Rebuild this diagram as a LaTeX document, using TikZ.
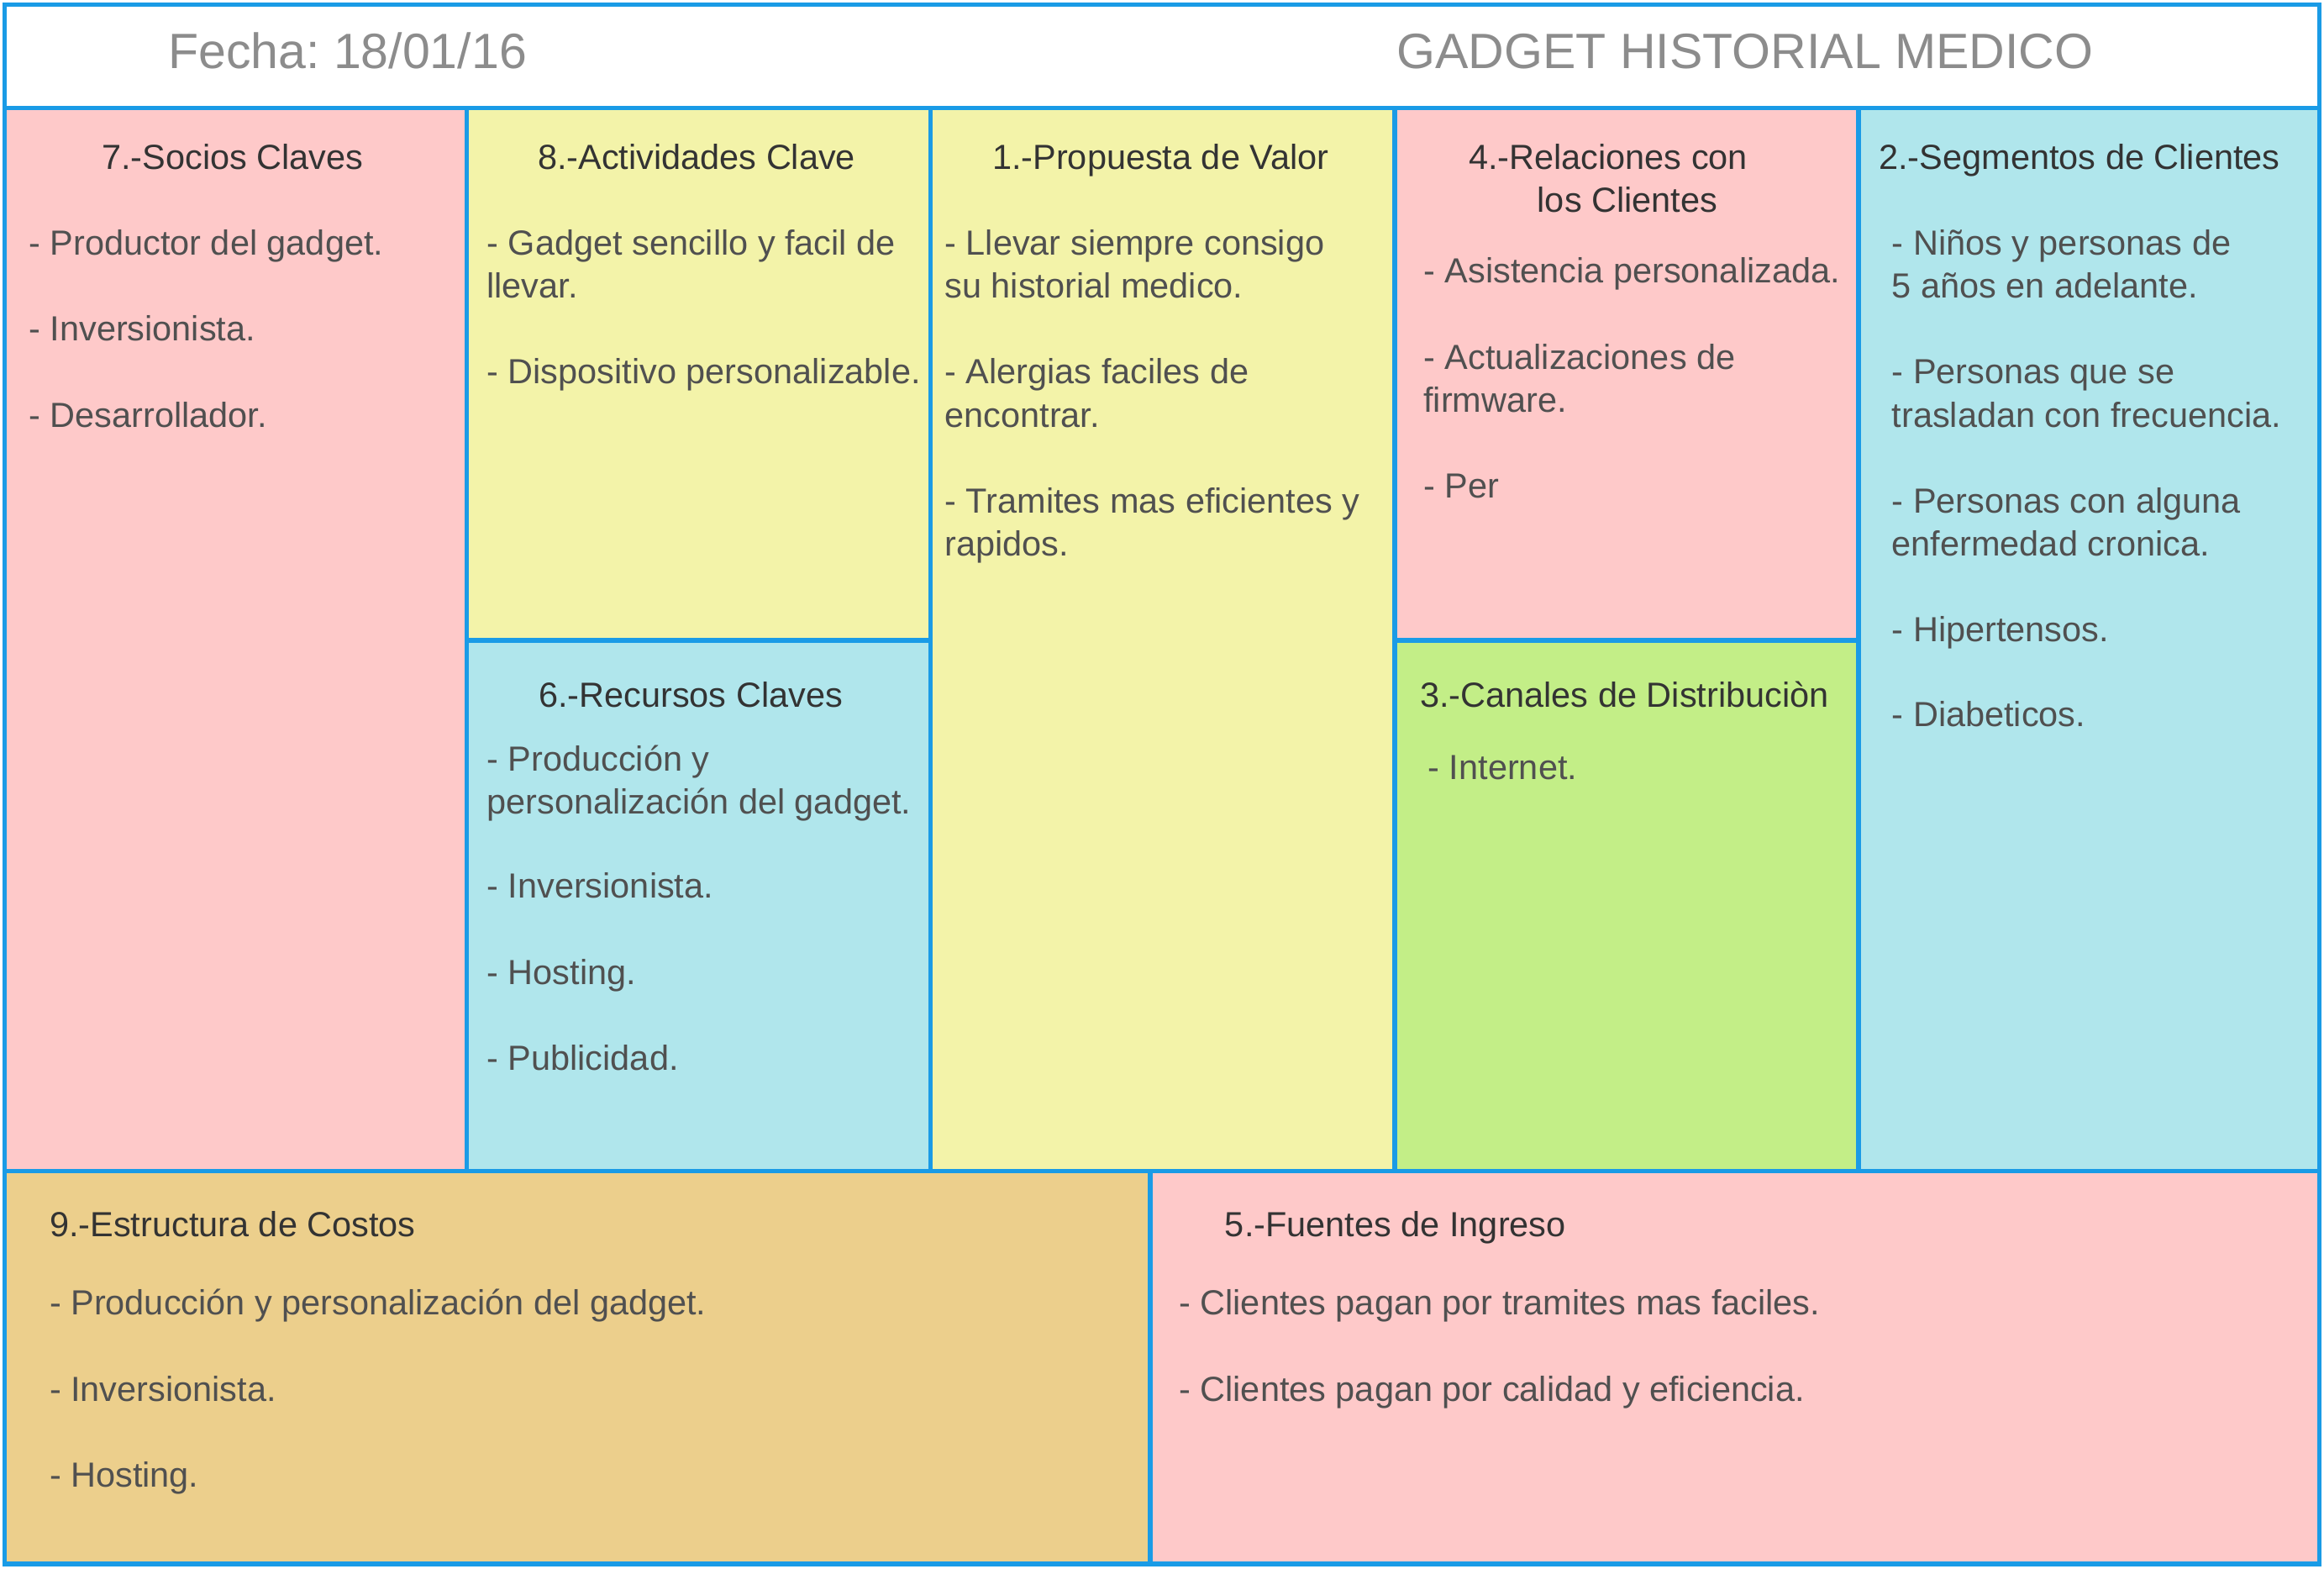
\documentclass[tikz,border=0pt]{standalone}
\usepackage{fontspec}
\setmainfont{Liberation Sans}
\frenchspacing
\definecolor{rosa}{HTML}{FEC9C9}
\definecolor{amarillo}{HTML}{F3F3A9}
\definecolor{azul}{HTML}{B0E6EC}
\definecolor{verde}{HTML}{C3EE87}
\definecolor{naranja}{HTML}{ECCF8C}
\definecolor{borde}{HTML}{1A9BE6}
\definecolor{texto}{HTML}{505050}
\definecolor{tit}{HTML}{333333}
\definecolor{cabeza}{HTML}{8C8C8C}

\begin{document}
\begin{tikzpicture}[x=0.1764mm,y=-0.1764mm,line width=1.5pt,
  celda/.style={draw=borde},
  cabecera/.style={font=\fontsize{16.8}{20}\selectfont,text=cabeza,inner sep=0pt,anchor=base west},
  titulo/.style={font=\fontsize{11.8}{14.5}\selectfont,text=tit,inner sep=0pt,anchor=base,yshift=-0.35mm},
  item/.style={font=\fontsize{11.8}{14.5}\selectfont,text=texto,inner sep=0pt,anchor=base west,yshift=-0.35mm}]
\useasboundingbox (0,0) rectangle (1568,1058);
% fondos de las celdas
\fill[white] (3,3) rectangle (1565,73);
\foreach \xa/\ya/\xb/\yb/\col in {3/73/315/790/rosa, 315/73/628/432/amarillo,
  315/432/628/790/azul, 628/73/941/790/amarillo, 941/73/1254/432/rosa,
  941/432/1254/790/verde, 1254/73/1565/790/azul, 3/790/776/1055/naranja,
  776/790/1565/1055/rosa}
  \fill[\col] (\xa,\ya) rectangle (\xb,\yb);
% bordes
\draw[celda] (3,3) rectangle (1565,73);
\foreach \xa/\ya/\xb/\yb in {3/73/315/790, 315/73/628/432, 315/432/628/790,
  628/73/941/790, 941/73/1254/432, 941/432/1254/790, 1254/73/1565/790,
  3/790/776/1055, 776/790/1565/1055}
  \draw[celda] (\xa,\ya) rectangle (\xb,\yb);
% cabecera
\node[cabecera] (fecha) at (112,46) {Fecha: 18/01/16};
\node[cabecera] (nombre) at (941,46) {GADGET HISTORIAL MEDICO};
% 7.- socios
\node[titulo] (socios) at (157,112) {7.-Socios Claves};
\foreach \y/\t [count=\i] in {170/- Productor del gadget., 228/- Inversionista.,
  286/- Desarrollador.}
  \node[item] (socio\i) at (18,\y) {\t};
% 8.- actividades
\node[titulo] (actividades) at (470,112) {8.-Actividades Clave};
\foreach \y/\t [count=\i] in {170/- Gadget sencillo y facil de, 199/llevar.,
  257/- Dispositivo personalizable.}
  \node[item] (actividad\i) at (327,\y) {\t};
% 6.- recursos
\node[titulo] (recursos) at (466,475) {6.-Recursos Claves};
\foreach \y/\t [count=\i] in {518/- Producción y, 547/personalización del gadget.,
  604/- Inversionista., 662/- Hosting., 720/- Publicidad.}
  \node[item] (recurso\i) at (327,\y) {\t};
% 1.- propuesta
\node[titulo] (propuesta) at (783,112) {1.-Propuesta de Valor};
\foreach \y/\t [count=\i] in {170/- Llevar siempre consigo, 199/su historial medico.,
  257/- Alergias faciles de, 286/encontrar., 344/- Tramites mas eficientes y,
  373/rapidos.}
  \node[item] (valor\i) at (636,\y) {\t};
% 4.- relaciones
\node[titulo] (relaciones) at (1085,112) {4.-Relaciones con};
\node[titulo] (relaciones2) at (1098,141) {los Clientes};
\foreach \y/\t [count=\i] in {189/- Asistencia personalizada., 247/- Actualizaciones de,
  276/firmware., 334/- Per}
  \node[item] (relacion\i) at (959,\y) {\t};
% 3.- canales
\node[titulo] (canales) at (1096,475) {3.-Canales de Distribuciòn};
\node[item] (canal1) at (962,524) {- Internet.};
% 2.- segmentos
\node[titulo] (segmentos) at (1403,112) {2.-Segmentos de Clientes};
\foreach \y/\t [count=\i] in {170/- Niños y personas de, 199/5 años en adelante.,
  257/- Personas que se, 286/trasladan con frecuencia., 344/- Personas con alguna,
  373/enfermedad cronica., 431/- Hipertensos., 488/- Diabeticos.}
  \node[item] (segmento\i) at (1275,\y) {\t};
% 9.- costos
\node[titulo,anchor=base west] (costos) at (32,832) {9.-Estructura de Costos};
\foreach \y/\t [count=\i] in {885/- Producción y personalización del gadget.,
  943/- Inversionista., 1001/- Hosting.}
  \node[item] (costo\i) at (32,\y) {\t};
% 5.- ingresos
\node[titulo,anchor=base west] (ingresos) at (825,832) {5.-Fuentes de Ingreso};
\foreach \y/\t [count=\i] in {885/- Clientes pagan por tramites mas faciles.,
  943/- Clientes pagan por calidad y eficiencia.}
  \node[item] (ingreso\i) at (794,\y) {\t};
\end{tikzpicture}
\end{document}
